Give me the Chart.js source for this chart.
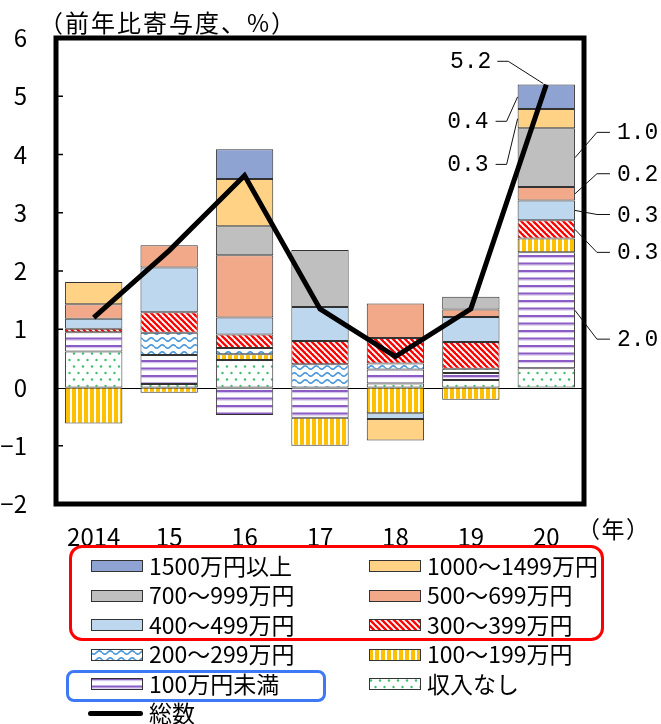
<!DOCTYPE html>
<html lang="ja">
<head>
<meta charset="utf-8">
<script src="https://cdn.jsdelivr.net/npm/chart.js@4.4.0/dist/chart.umd.min.js"></script>
<style>
body{margin:0;background:#fff;}
#wrap{position:relative;width:661px;height:724px;overflow:hidden;font-family:"Noto Sans CJK JP",sans-serif;color:#000;}
#c{position:absolute;left:0;top:0;}
.txt{position:absolute;white-space:nowrap;font-size:23px;line-height:30px;}
.sw{position:absolute;}
.box{position:absolute;box-sizing:border-box;}
</style>
</head>
<body>
<div id="wrap">
  <canvas id="c" width="661" height="724"></canvas>
  <div class="txt" style="left:39px;top:7px;font-size:24px;letter-spacing:2px;">（前年比寄与度、%）</div>
  <div class="txt" style="left:577px;top:513px;letter-spacing:1.5px;">（年）</div>
  <div class="box" style="left:69px;top:545px;width:535px;height:96px;border:3px solid #ff0000;border-radius:13px;"></div>
  <div class="box" style="left:66px;top:670px;width:260px;height:32px;border:3px solid #3d78f5;border-radius:8px;"></div>
  <div id="legend"></div>
</div>
<script>
// 年
var years = ['2014', '15', '16', '17', '18', '19', '20'];

// 年収階級別の寄与度（前年比、%）
var inc1500 = [0, 0, 0.51, 0, 0, 0, 0.42];
var inc1000 = [0.38, 0, 0.81, 0, -0.37, 0, 0.33];
var inc700 = [0, 0, 0.50, 0.98, 0, 0.22, 1.01];
var inc500 = [0.25, 0.38, 1.07, 0, 0.59, 0.13, 0.23];
var inc400 = [0.17, 0.77, 0.29, 0.58, -0.10, 0.43, 0.34];
var inc300 = [0.06, 0.35, 0.23, 0.40, 0.44, 0.46, 0.31];
var inc200 = [0, 0.38, 0.11, 0.40, 0.10, 0.07, 0];
var inc100 = [-0.62, -0.09, 0.10, -0.48, -0.44, -0.21, 0.24];
var under100 = [0.33, 0.50, -0.47, -0.52, 0.24, 0.12, 1.99];
var noIncome = [0.62, 0.06, 0.47, 0, 0.07, 0.13, 0.33];
// 総数
var total = [1.2, 2.35, 3.64, 1.35, 0.53, 1.35, 5.2];

var yTicks = [-2, -1, 0, 1, 2, 3, 4, 5, 6];

// 系列（積み上げ順：下から）
var series = [
    {key: 'none', name: '収入なし', data: noIncome, fill: 'green'},
    {key: 'u100', name: '100万円未満', data: under100, fill: 'purple'},
    {key: 'i100', name: '100～199万円', data: inc100, fill: 'yellow'},
    {key: 'i200', name: '200～299万円', data: inc200, fill: 'wave'},
    {key: 'i300', name: '300～399万円', data: inc300, fill: 'red'},
    {key: 'i400', name: '400～499万円', data: inc400, fill: '#bdd7ee'},
    {key: 'i500', name: '500～699万円', data: inc500, fill: '#f2a98a'},
    {key: 'i700', name: '700～999万円', data: inc700, fill: '#bfbfbf'},
    {key: 'i1000', name: '1000～1499万円', data: inc1000, fill: '#ffd285'},
    {key: 'i1500', name: '1500万円以上', data: inc1500, fill: '#8fa3d3'}
];

// 凡例の並び
var legendRows = [
    ['i1500', 'i1000'],
    ['i700', 'i500'],
    ['i400', 'i300'],
    ['i200', 'i100'],
    ['u100', 'none']
];

// 2020年の注記（ラベルの高さは目盛の値で）
var notes = [
    {key: 'total', side: 'left', at: 5.6},
    {key: 'i1500', side: 'left', at: 4.57},
    {key: 'i1000', side: 'left', at: 3.83},
    {key: 'i700', side: 'right', at: 4.38},
    {key: 'i500', side: 'right', at: 3.67},
    {key: 'i400', side: 'right', at: 2.97},
    {key: 'i300', side: 'right', at: 2.32},
    {key: 'u100', side: 'right', at: 0.83}
];

function makeTile(kind){
    var c = document.createElement('canvas');
    var x = c.getContext('2d');
    if(kind == 'red'){
        c.width = 6; c.height = 6;
        x.fillStyle = '#fff'; x.fillRect(0, 0, 6, 6);
        x.strokeStyle = '#ff0000'; x.lineWidth = 2.3;
        for(var k = -3; k <= 3; k++){
            x.beginPath(); x.moveTo(-6, -6 + 6*k); x.lineTo(12, 12 + 6*k); x.stroke();
        }
    } else if(kind == 'wave'){
        c.width = 11; c.height = 7;
        x.fillStyle = '#fff'; x.fillRect(0, 0, 11, 7);
        x.strokeStyle = '#4a98dc'; x.lineWidth = 1.7;
        for(var off = -7; off <= 7; off += 7){
            x.beginPath();
            for(var i = 0; i <= 11; i += 0.5){
                var yy = 3.5 + off + 1.7*Math.sin(2*Math.PI*i/11);
                if(i == 0) x.moveTo(i, yy); else x.lineTo(i, yy);
            }
            x.stroke();
        }
    } else if(kind == 'yellow'){
        c.width = 6; c.height = 6;
        x.fillStyle = '#fff'; x.fillRect(0, 0, 6, 6);
        x.fillStyle = '#ffc000'; x.fillRect(0, 0, 4, 6);
    } else if(kind == 'purple'){
        c.width = 4; c.height = 15;
        x.fillStyle = '#fff'; x.fillRect(0, 0, 4, 15);
        x.fillStyle = '#d6c6ec'; x.fillRect(0, 2, 4, 1.2); x.fillRect(0, 9.5, 4, 1.2);
        x.fillStyle = '#8a5cc4'; x.fillRect(0, 0, 4, 2); x.fillRect(0, 7.5, 4, 2);
    } else if(kind == 'green'){
        c.width = 9; c.height = 13;
        x.fillStyle = '#fff'; x.fillRect(0, 0, 9, 13);
        x.fillStyle = '#3cbf6b';
        x.beginPath(); x.arc(2, 2.5, 1.2, 0, 2*Math.PI); x.fill();
        x.beginPath(); x.arc(6.5, 9, 1.2, 0, 2*Math.PI); x.fill();
    }
    return c;
}

function getFill(ctx, fill){
    if(fill.charAt(0) == '#') return fill;
    return ctx.createPattern(makeTile(fill), 'repeat');
}

function findSeries(key){
    for(var i = 0; i < series.length; i++){
        if(series[i].key == key) return i;
    }
    return -1;
}

var canvas = document.getElementById('c');
var mainCtx = canvas.getContext('2d');

var datasets = [];
for(var i = 0; i < series.length; i++){
    datasets.push({
        type: 'bar',
        label: series[i].name,
        data: series[i].data,
        backgroundColor: getFill(mainCtx, series[i].fill),
        borderColor: '#333',
        borderWidth: 1,
        borderSkipped: false,
        barPercentage: 0.76,
        categoryPercentage: 1.0,
        order: 1
    });
}
datasets.push({
    type: 'line',
    label: '総数',
    data: total,
    borderColor: '#000',
    borderWidth: 5,
    borderJoinStyle: 'miter',
    pointRadius: 0,
    tension: 0,
    fill: false,
    order: 0
});

var numFont = '23px "Liberation Mono", monospace';

var framePlugin = {
    id: 'framePlugin',
    beforeDatasetsDraw: function(chart){
        var ctx = chart.ctx, a = chart.chartArea, y = chart.scales.y;
        var y0 = Math.round(y.getPixelForValue(0)) + 0.5;
        ctx.save();
        ctx.strokeStyle = '#000'; ctx.lineWidth = 1;
        ctx.beginPath(); ctx.moveTo(a.left, y0); ctx.lineTo(a.right, y0); ctx.stroke();
        ctx.restore();
    },
    afterDatasetsDraw: function(chart){
        var ctx = chart.ctx, a = chart.chartArea, ys = chart.scales.y;
        ctx.save();
        // 目盛
        ctx.strokeStyle = '#000'; ctx.lineWidth = 1.5;
        for(var t = 0; t < yTicks.length; t++){
            var v = yTicks[t];
            if(v == yTicks[0] || v == yTicks[yTicks.length-1] || v == 0) continue;
            var py = ys.getPixelForValue(v);
            ctx.beginPath(); ctx.moveTo(a.left, py); ctx.lineTo(a.left + 7, py); ctx.stroke();
        }
        // 枠
        ctx.lineWidth = 5; ctx.lineJoin = 'miter';
        ctx.strokeRect(a.left, a.top, a.right - a.left, a.bottom - a.top);

        // 注記
        var last = years.length - 1;
        ctx.lineWidth = 1; ctx.strokeStyle = '#111';
        ctx.fillStyle = '#000'; ctx.font = numFont; ctx.textBaseline = 'middle';
        for(var n = 0; n < notes.length; n++){
            var note = notes[n];
            var ly = ys.getPixelForValue(note.at);
            var ax, ay, val, pts;
            if(note.key == 'total'){
                var pt = chart.getDatasetMeta(series.length).data[last];
                ax = pt.x - 3; ay = pt.y - 1; val = total[last];
                pts = [[ax - 46, ly], [ax - 35, ly], [ax, ay]];
                ctx.textAlign = 'right';
                ctx.fillText(val.toFixed(1), ax - 52, ly + 1);
            } else {
                var idx = findSeries(note.key);
                var el = chart.getDatasetMeta(idx).data[last];
                ay = (el.y + el.base)/2; val = series[idx].data[last];
                if(note.side == 'left'){
                    ax = el.x - el.width/2;
                    pts = [[ax - 22, ly], [ax - 11, ly], [ax, ay]];
                    ctx.textAlign = 'right';
                    ctx.fillText(val.toFixed(1), ax - 29, ly + 1);
                } else {
                    ax = el.x + el.width/2;
                    pts = [[ax, ay], [ax + 22, ly], [ax + 35, ly]];
                    ctx.textAlign = 'left';
                    ctx.fillText(val.toFixed(1), ax + 42, ly + 1);
                }
            }
            ctx.beginPath();
            ctx.moveTo(pts[0][0], pts[0][1]);
            for(var p = 1; p < pts.length; p++) ctx.lineTo(pts[p][0], pts[p][1]);
            ctx.stroke();
        }
        ctx.restore();
    }
};

var chart = new Chart(canvas, {
    data: {labels: years, datasets: datasets},
    options: {
        responsive: false,
        animation: false,
        devicePixelRatio: 1,
        layout: {padding: {top: 38, right: 77, bottom: 175, left: 0}},
        plugins: {legend: {display: false}, tooltip: {enabled: false}},
        scales: {
            x: {
                stacked: true,
                grid: {display: false},
                border: {display: false},
                ticks: {color: '#000', font: {family: '"Noto Sans CJK JP"', size: 24}, padding: 10, maxRotation: 0},
                afterFit: function(s){ s.height = 45; }
            },
            y: {
                stacked: true,
                min: yTicks[0],
                max: yTicks[yTicks.length-1],
                grid: {display: false},
                border: {display: false},
                afterBuildTicks: function(s){ s.ticks = yTicks.map(function(v){ return {value: v}; }); },
                ticks: {
                    color: '#000',
                    font: {family: '"Noto Sans CJK JP"', size: 24},
                    padding: 21,
                    callback: function(v){ return v < 0 ? '\u2212' + Math.abs(v) : String(v); }
                },
                afterFit: function(s){ s.width = 56; }
            }
        }
    },
    plugins: [framePlugin]
});

// 凡例
var legend = document.getElementById('legend');
var rowTop = 566, rowGap = 29.5;
var colSw = [91, 369], colTx = [149, 427];
function addItem(col, row, html){
    var d = document.createElement('div');
    d.className = 'txt';
    d.style.left = colTx[col] + 'px';
    d.style.top = (rowTop + row*rowGap - 16.5) + 'px';
    d.textContent = html;
    legend.appendChild(d);
}
for(var r = 0; r < legendRows.length; r++){
    for(var c = 0; c < 2; c++){
        var s = series[findSeries(legendRows[r][c])];
        var sw = document.createElement('canvas');
        sw.className = 'sw';
        sw.width = 52; sw.height = 12;
        sw.style.left = colSw[c] + 'px';
        sw.style.top = (rowTop + r*rowGap - 6) + 'px';
        var sctx = sw.getContext('2d');
        sctx.fillStyle = getFill(sctx, s.fill);
        sctx.fillRect(0, 0, 52, 12);
        sctx.strokeStyle = '#333'; sctx.lineWidth = 1;
        sctx.strokeRect(0.5, 0.5, 51, 11);
        legend.appendChild(sw);
        addItem(c, r, s.name);
    }
}
// 総数の凡例
var ln = document.createElement('div');
ln.style.cssText = 'position:absolute;left:88px;width:55px;height:5px;border-radius:3px;background:#000;top:' + (rowTop + 5*rowGap - 2.5) + 'px;';
legend.appendChild(ln);
addItem(0, 5, '総数');
</script>
</body>
</html>
